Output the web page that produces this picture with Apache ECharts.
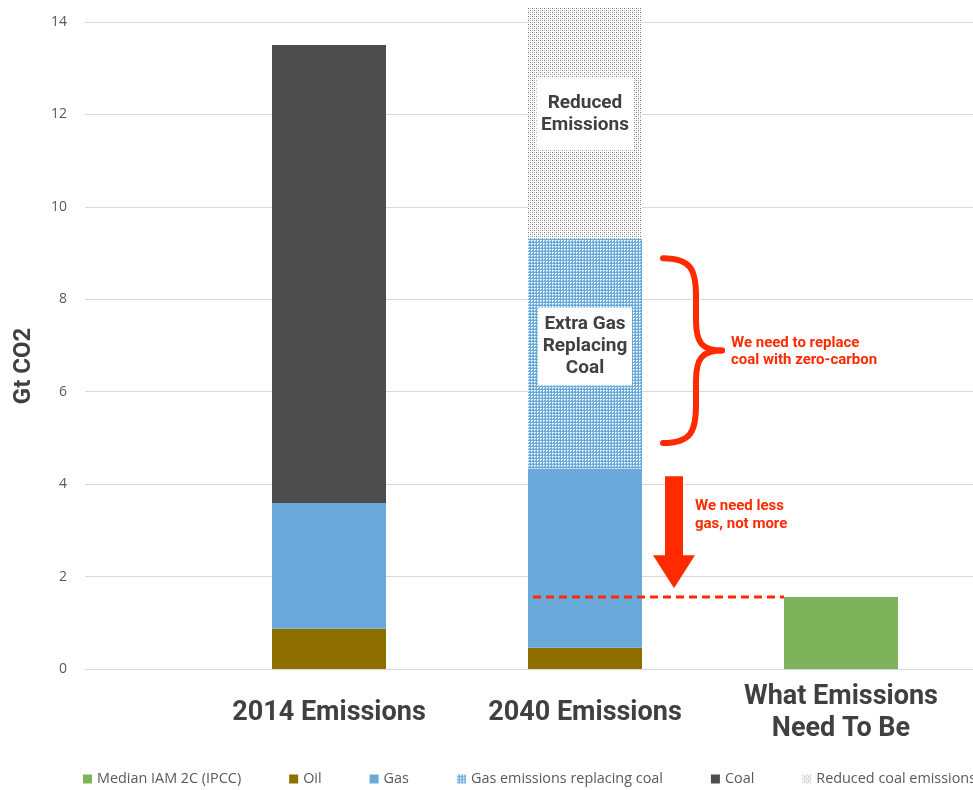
<!DOCTYPE html>
<html>
<head>
<meta charset="utf-8">
<script src="https://cdn.jsdelivr.net/npm/echarts@6/dist/echarts.min.js"></script>
<style>
  html, body { margin: 0; padding: 0; background: #ffffff; }
  #chart { width: 973px; height: 790px; }
</style>
</head>
<body>
<div id="chart"></div>
<script>
// Emissions by fuel, Gt CO2
const categories = ['2014 Emissions', '2040 Emissions', 'What Emissions\nNeed To Be'];
const medianIam = ['-', '-', 1.56];
const oil = [0.87, 0.46, '-'];
const gas = [2.72, 3.88, '-'];
const gasReplacingCoal = ['-', 4.97, '-'];
const coal = [9.91, '-', '-'];
const reducedCoal = ['-', 5.0, '-'];
const yMin = 0, yMax = 14, yStep = 2;

const HEAD = "Roboto, 'DejaVu Sans', sans-serif";
const BODY = "'Open Sans', 'Noto Sans', sans-serif";
const RED = '#ff2a00';
const INK = '#404040';

// small repeating textures for the hatched segments
function texture(size, bg, dots) {
  const c = document.createElement('canvas');
  c.width = size; c.height = size;
  const g = c.getContext('2d');
  g.fillStyle = bg; g.fillRect(0, 0, size, size);
  dots.forEach(([x, y, col]) => { g.fillStyle = col; g.fillRect(x, y, 1, 1); });
  return { image: c, repeat: 'repeat' };
}
const gasHatch = texture(3, '#6aaadb', [
  [0, 0, 'rgba(255,255,255,0.85)'], [1, 0, 'rgba(255,255,255,0.85)'], [0, 1, 'rgba(255,255,255,0.85)']
]);
const reducedHatch = texture(4, '#ffffff', [
  [0, 0, '#7a7a7a'], [2, 2, '#7a7a7a'], [2, 0, '#c4c4c4'], [0, 2, '#c4c4c4']
]);

const boxLabel = (text, offsetY, padV, w) => ({
  show: true,
  position: 'inside',
  formatter: text,
  offset: [0, offsetY],
  backgroundColor: '#ffffff',
  width: w,
  overflow: 'none',
  padding: [padV, 7],
  color: INK,
  fontFamily: HEAD,
  fontWeight: 'bold',
  fontSize: 19,
  lineHeight: 22,
  align: 'center'
});

const barBase = { type: 'bar', stack: 'total', barWidth: 114, xAxisIndex: 0, yAxisIndex: 0, clip: false };

const option = {
  animation: false,
  backgroundColor: '#ffffff',
  grid: [
    { left: 201, right: 4, top: 22, bottom: 121 },
    { left: 85, right: 0, top: 22, bottom: 121 }
  ],
  xAxis: [
    {
      type: 'category', gridIndex: 0, data: categories,
      axisLine: { show: false }, axisTick: { show: false },
      axisLabel: {
        interval: 0, margin: 44, verticalAlign: 'middle',
        color: INK, fontFamily: HEAD, fontWeight: 'bold', fontSize: 27, lineHeight: 32
      }
    },
    { type: 'value', gridIndex: 1, show: false, min: 0, max: 1 }
  ],
  yAxis: [
    {
      type: 'value', gridIndex: 0, min: yMin, max: yMax, interval: yStep,
      axisLine: { show: false }, axisTick: { show: false },
      axisLabel: { show: false }, splitLine: { show: false }
    },
    {
      type: 'value', gridIndex: 1, min: yMin, max: yMax, interval: yStep,
      axisLine: { show: false }, axisTick: { show: false },
      axisLabel: { margin: 18, color: '#595959', fontFamily: BODY, fontSize: 14 },
      splitLine: { lineStyle: { color: '#d9d9d9', width: 1 } }
    }
  ],
  legend: {
    left: 83, top: 772, width: 1200, padding: 0,
    icon: 'rect', itemWidth: 9, itemHeight: 9, itemGap: 48,
    selectedMode: false,
    textStyle: { color: '#595959', fontFamily: BODY, fontSize: 14.4 },
    data: ['Median IAM 2C (IPCC)', 'Oil', 'Gas', 'Gas emissions replacing coal', 'Coal', 'Reduced coal emissions']
  },
  series: [
    { ...barBase, name: 'Median IAM 2C (IPCC)', data: medianIam, itemStyle: { color: '#7db35a' } },
    { ...barBase, name: 'Oil', data: oil, itemStyle: { color: '#8f6f00' } },
    { ...barBase, name: 'Gas', data: gas, itemStyle: { color: '#6aaadb' } },
    { ...barBase, name: 'Gas emissions replacing coal', data: gasReplacingCoal, itemStyle: { color: gasHatch },
      label: boxLabel('Extra Gas\nReplacing\nCoal', -7, 6, 80) },
    { ...barBase, name: 'Coal', data: coal, itemStyle: { color: '#4d4d4d' } },
    { ...barBase, name: 'Reduced coal emissions', data: reducedCoal, itemStyle: { color: reducedHatch },
      label: boxLabel('Reduced\nEmissions', -9, 14, 83) }
  ]
};

const chart = echarts.init(document.getElementById('chart'));
chart.setOption(option);

// annotations placed through the bar grid's own scale
const px = (i, v) => chart.convertToPixel({ gridIndex: 0 }, [i, v]);
const half = 57;
const bar2Right = px(1, 0)[0] + half;
const bar3Left = px(2, 0)[0] - half;
const targetY = px(2, medianIam[2])[1];

// down arrow beside the 2040 gas segment
const ax = bar2Right + 32;
const aTop = px(1, 4.17)[1];
const aTip = px(1, 1.75)[1];
const aNeck = aTip - 33;

// curly brace beside the extra gas segment
const bx = bar2Right + 80;
const by = px(1, 6.89)[1];
const bh = (px(1, 4.89)[1] - px(1, 8.89)[1]) / 2;
const braceStyle = { stroke: RED, lineWidth: 6, fill: null, lineCap: 'round' };
const braceParts = [];
[-1, 1].forEach((s) => {
  braceParts.push(
    { type: 'bezierCurve', z: 10, shape: {
        x1: bx - 59, y1: by + s * bh, x2: bx - 26, y2: by + s * (bh - 38),
        cpx1: bx - 30, cpy1: by + s * bh, cpx2: bx - 26, cpy2: by + s * (bh - 13) }, style: braceStyle },
    { type: 'line', z: 10, shape: { x1: bx - 26, y1: by + s * (bh - 38), x2: bx - 26, y2: by + s * 30 }, style: braceStyle },
    { type: 'bezierCurve', z: 10, shape: {
        x1: bx - 26, y1: by + s * 30, x2: bx, y2: by,
        cpx1: bx - 26, cpy1: by + s * 8, cpx2: bx - 20, cpy2: by }, style: braceStyle }
  );
});

chart.setOption({
  graphic: [
    {
      type: 'text', x: 24, y: 366, rotation: Math.PI / 2,
      style: { text: 'Gt CO2', fill: INK, fontFamily: HEAD, fontWeight: 'bold', fontSize: 24, align: 'center', verticalAlign: 'middle' }
    },
    {
      type: 'line', z: 10,
      shape: { x1: bar2Right - 114 + 5, y1: targetY, x2: bar3Left, y2: targetY },
      style: { stroke: RED, lineWidth: 3, lineDash: [8, 5] }
    },
    {
      type: 'polygon', z: 10,
      shape: { points: [[ax - 9, aTop], [ax + 9, aTop], [ax + 9, aNeck], [ax + 21, aNeck], [ax, aTip], [ax - 21, aNeck], [ax - 9, aNeck]] },
      style: { fill: RED }
    },
    ...braceParts,
    {
      type: 'text', x: bx + 9, y: by + 1,
      style: { text: 'We need to replace\ncoal with zero-carbon', fill: RED, fontFamily: HEAD, fontWeight: 'bold', fontSize: 15, lineHeight: 17, verticalAlign: 'middle' }
    },
    {
      type: 'text', x: ax + 21, y: px(1, 3.33)[1],
      style: { text: 'We need less\ngas, not more', fill: RED, fontFamily: HEAD, fontWeight: 'bold', fontSize: 15, lineHeight: 18, verticalAlign: 'middle' }
    }
  ]
});
</script>
</body>
</html>
